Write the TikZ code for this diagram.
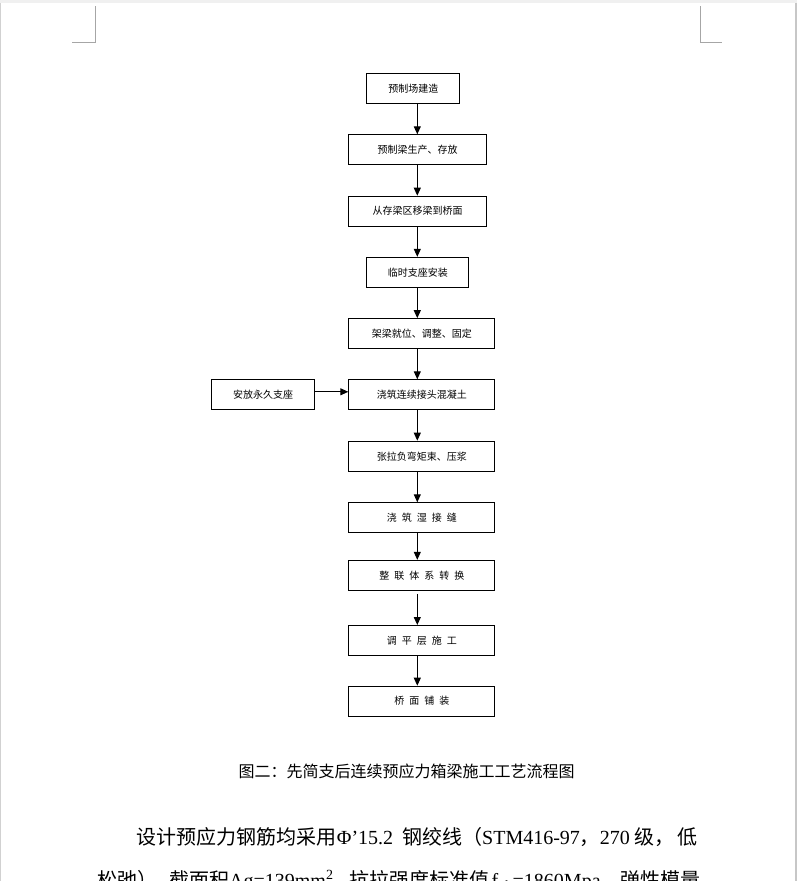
\documentclass[tikz,border=0pt]{standalone}
\usepackage{fontspec}
\setmainfont{Liberation Serif}
\newfontfamily\cjk{Noto Sans CJK SC}
\newfontfamily\cjkwide[LetterSpace=50]{Noto Sans CJK SC}
\usetikzlibrary{arrows.meta}

\begin{document}
\begin{tikzpicture}
      [x=1pt,y=-1pt,every node/.style={inner sep=0pt},
       >={Triangle[length=8pt,width=7pt]}]

      \tikzstyle{stepbox} = [draw,line width=1pt,minimum height=30pt,
                             minimum width=146pt,font=\fontsize{10}{12}\cjk]
      \tikzstyle{widebox} = [stepbox,font=\fontsize{10}{12}\cjkwide]
      \tikzstyle{pagemark} = [draw=black!35,line width=0.8pt]
      \tikzstyle{bodyline} = [anchor=base west,font=\fontsize{20}{24}\selectfont]

      \useasboundingbox (0,0) rectangle (797,881);

      % page edges and corner marks
      \fill[black!6] (0,0) rectangle (797,3);
      \draw[black!18] (0.5,3) -- (0.5,881);
      \draw[black!22,line width=2pt] (796,3) -- (796,881);
      \draw[pagemark] (95.5,6) -- (95.5,42) -- (72,42);
      \draw[pagemark] (700,6) -- (700,42) -- (722,42);

      \node[stepbox,minimum width=93pt]    (b1)  at (413.3,88.8)  {预制场建造};
      \node[stepbox,minimum width=137.4pt] (b2)  at (417.5,149.8) {预制梁生产、存放};
      \node[stepbox,minimum width=137.4pt] (b3)  at (417.5,211.2) {从存梁区移梁到桥面};
      \node[stepbox,minimum width=102pt]   (b4)  at (417.8,272.3) {临时支座安装};
      \node[stepbox]                       (b5)  at (421.8,333.7) {架梁就位、调整、固定};
      \node[stepbox,minimum width=102.4pt] (b6)  at (263,394.8)   {安放永久支座};
      \node[stepbox]                       (b7)  at (421.8,394.8) {浇筑连续接头混凝土};
      \node[stepbox]                       (b8)  at (421.8,456.2) {张拉负弯矩束、压浆};
      \node[widebox]                       (b9)  at (421.8,517.8) {浇筑湿接缝};
      \node[widebox]                       (b10) at (421.8,575.3) {整联体系转换};
      \node[widebox]                       (b11) at (421.8,640.5) {调平层施工};
      \node[widebox]                       (b12) at (421.8,701.2) {桥面铺装};

      \coordinate (ax) at (417.3,0);

      \path[->, line width=1pt]
            (b1.south -| ax)  edge (b2.north -| ax)
            (b2.south -| ax)  edge (b3.north -| ax)
            (b3.south -| ax)  edge (b4.north -| ax)
            (b4.south -| ax)  edge (b5.north -| ax)
            (b5.south -| ax)  edge (b7.north -| ax)
            ([yshift=3pt]b6.east) edge ([yshift=3pt]b7.west)
            (b7.south -| ax)  edge (b8.north -| ax)
            (b8.south -| ax)  edge (b9.north -| ax)
            (b9.south -| ax)  edge (b10.north -| ax)
            (b10.south -| ax) edge [shorten <=3pt] (b11.north -| ax)
            (b11.south -| ax) edge (b12.north -| ax);

      \node[font=\fontsize{16}{19}\cjk] (caption) at (406.5,771)
            {图二：先简支后连续预应力箱梁施工工艺流程图};

      \node[bodyline] (line1) at (136.7,844.5)
            {{\cjk 设计预应力钢筋均采用}Φ’15.2\hspace{9pt}{\cjk 钢绞线（}STM416-97{\cjk ，}270 {\cjk 级，}\hspace{3pt}{\cjk 低}};
      \node[bodyline] (line2) at (97,887.5)
            {{\cjk 松弛）}\kern-8pt{\cjk ，截面积}Ag=139mm\textsuperscript{2}\kern-4pt{\cjk ，抗拉强度标准值}\hspace{2pt}f\textsubscript{pk}=1860Mpa{\cjk ，弹性模量}};
    \end{tikzpicture}
\end{document}
